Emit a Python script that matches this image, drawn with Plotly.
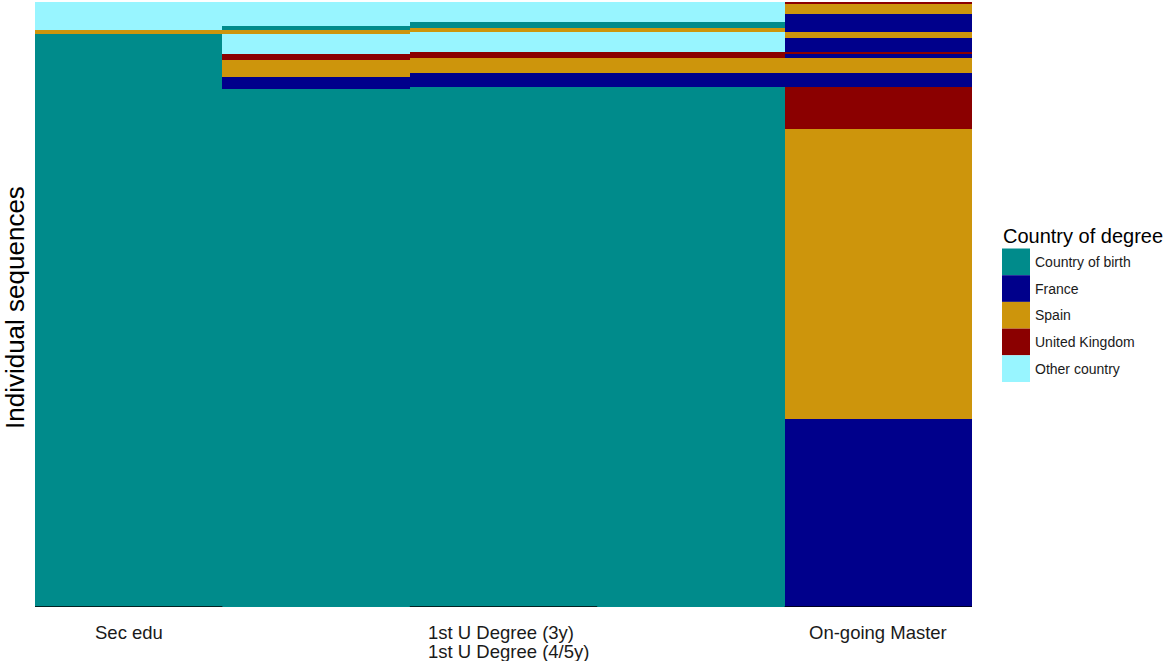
import plotly.graph_objects as go

# ---- data ----
states = ["Country of birth", "France", "Spain", "United Kingdom", "Other country"]
state_colors = ["#008B8B", "#00008B", "#CD950C", "#8B0000", "#98F5FF"]

# segments per time position, bottom-up: (state, number of sequences)
col1 = [("Country of birth", 284), ("Spain", 2), ("Other country", 14)]
col2 = [("Country of birth", 257), ("France", 6), ("Spain", 8), ("United Kingdom", 3),
        ("Other country", 10), ("Spain", 2), ("Country of birth", 2), ("Other country", 12)]
col3 = [("Country of birth", 258), ("France", 7), ("Spain", 7), ("United Kingdom", 3),
        ("Other country", 10), ("Spain", 2), ("Country of birth", 3), ("Other country", 10)]
col4 = [("Country of birth", 258), ("France", 7), ("Spain", 7), ("United Kingdom", 3),
        ("Other country", 10), ("Spain", 2), ("Country of birth", 3), ("Other country", 10)]
col5 = [("France", 93), ("Spain", 144), ("United Kingdom", 21), ("France", 7), ("Spain", 7),
        ("France", 2), ("United Kingdom", 1), ("France", 7), ("Spain", 3), ("France", 9),
        ("Spain", 5), ("United Kingdom", 1)]
columns = [col1, col2, col3, col4, col5]

tick_positions = [0, 2, 4]
tick_labels = [["Sec edu"], ["1st U Degree (3y)", "1st U Degree (4/5y)"], ["On-going Master"]]
underline_positions = [0, 2, 4]

FONT = "Liberation Sans, Arial, sans-serif"

fig = go.Figure()
for st, colr in zip(states, state_colors):
    xs, bases, hs = [], [], []
    for ci, col in enumerate(columns):
        b = 0
        for s, n in col:
            if s == st:
                xs.append(ci + 0.5)
                bases.append(b)
                hs.append(n)
            b += n
    fig.add_trace(go.Bar(x=xs, y=hs, base=bases, width=1.0, name=st,
                         marker=dict(color=colr, line=dict(width=0)),
                         showlegend=False))

total = sum(n for _, n in col1)

# bottom black lines under labelled columns
for p in underline_positions:
    fig.add_shape(type="line", xref="x", yref="y", x0=p, x1=p + 1, y0=0, y1=0,
                  line=dict(color="black", width=1.5))

# x labels
for p, lines in zip(tick_positions, tick_labels):
    if len(lines) == 1:
        fig.add_annotation(x=p + 0.5, y=0, xref="x", yref="paper", text=lines[0],
                           showarrow=False, xanchor="center", yanchor="middle", yshift=-25,
                           font=dict(family=FONT, size=18.5, color="#1a1a1a"))
    else:
        for k, ln in enumerate(lines):
            fig.add_annotation(x=p + 0.085, y=0, xref="x", yref="paper", text=ln,
                               showarrow=False, xanchor="left", yanchor="middle",
                               yshift=-25 - 19 * k,
                               font=dict(family=FONT, size=18.5, color="#1a1a1a"))

# manual legend
W, H = 1166, 661
L, R, T, B = 35, 194, 2, 54
pw, ph = W - L - R, H - T - B
def px(x): return (x - L) / pw
def py(y): return (H - B - y) / ph

# y axis title
fig.add_annotation(x=px(15), y=py(308), xref="paper", yref="paper", text="Individual sequences",
                   showarrow=False, textangle=-90, xanchor="center", yanchor="middle",
                   font=dict(family=FONT, size=26, color="black"))

fig.add_annotation(x=px(1001), y=py(236), xref="paper", yref="paper", text="Country of degree",
                   showarrow=False, xanchor="left", yanchor="middle",
                   font=dict(family=FONT, size=20, color="black"))
top = 248.5
hgt = 26.7
for i, (st, colr) in enumerate(zip(states, state_colors)):
    y0 = top + i * hgt
    fig.add_shape(type="rect", xref="paper", yref="paper", x0=px(1002), x1=px(1030),
                  y0=py(y0 + hgt), y1=py(y0), fillcolor=colr, line=dict(width=0))
    fig.add_annotation(x=px(1033), y=py(y0 + hgt / 2), xref="paper", yref="paper", text=st,
                       showarrow=False, xanchor="left", yanchor="middle",
                       font=dict(family=FONT, size=14, color="#1a1a1a"))

fig.update_layout(
    width=W, height=H,
    margin=dict(l=L, r=R, t=T, b=B, autoexpand=False),
    paper_bgcolor="white", plot_bgcolor="white",
    barmode="overlay", bargap=0,
    xaxis=dict(range=[0, 5], showticklabels=False, showgrid=False, zeroline=False, ticks=""),
    yaxis=dict(range=[0, total], showticklabels=False, showgrid=False, zeroline=False, ticks=""),
)
fig.write_html("out.html", config={"displayModeBar": False},
               post_script="document.body.style.margin='0';")
